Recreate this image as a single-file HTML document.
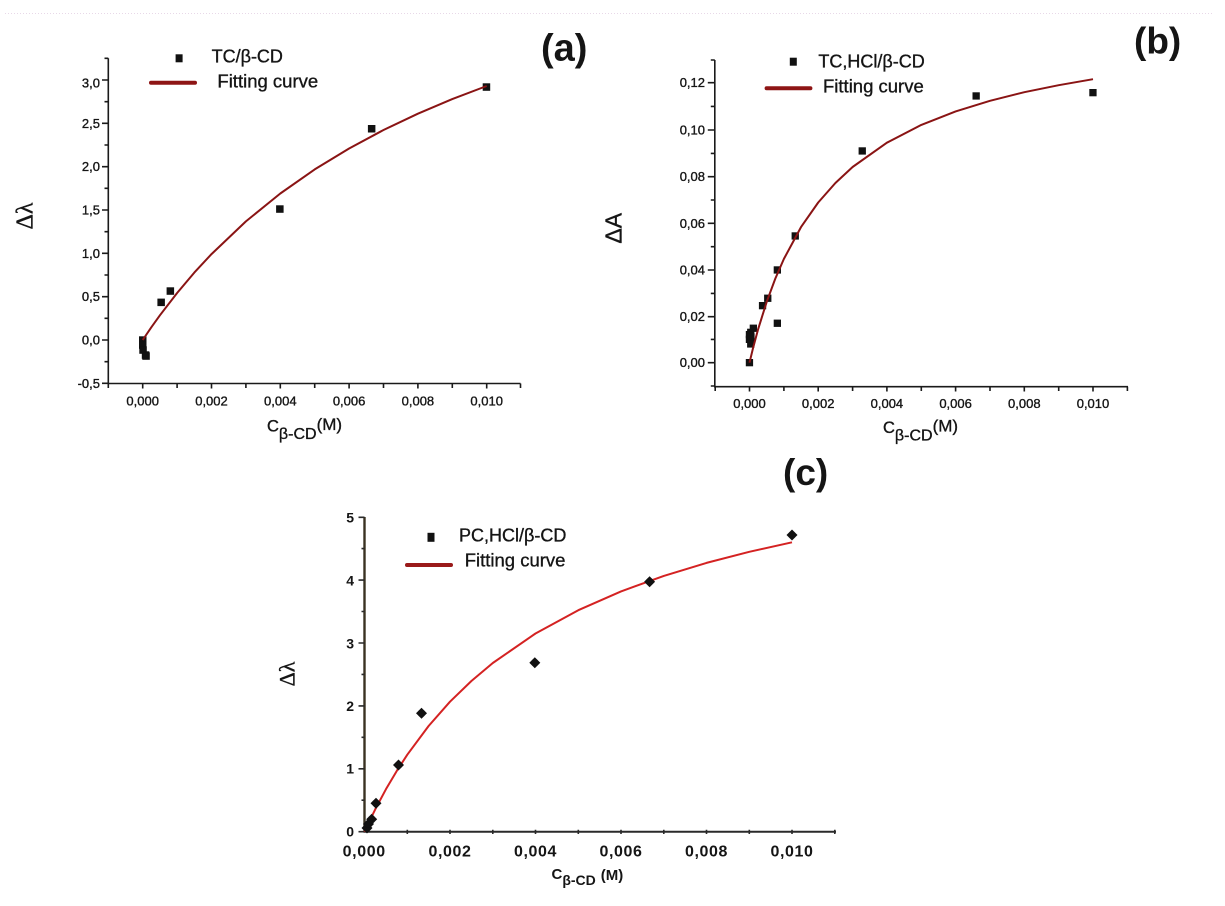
<!DOCTYPE html>
<html>
<head>
<meta charset="utf-8">
<style>
html,body{margin:0;padding:0;background:#fff;}
svg{display:block;}
text{font-family:"Liberation Sans",Arial,sans-serif;fill:#151515;}
.serif{font-family:"Liberation Serif","Times New Roman",serif;}
.th{stroke:#151515;stroke-width:0.35;}
</style>
</head>
<body>
<svg width="1225" height="906" viewBox="0 0 1225 906" xmlns="http://www.w3.org/2000/svg">
<rect width="1225" height="906" fill="#ffffff"/>
<line x1="5" y1="13.5" x2="1212" y2="13.5" stroke="#e8d8e8" stroke-width="1" stroke-dasharray="1 2"/>

<!-- ================= PANEL (a) ================= -->
<g stroke="#1a1a1a" stroke-width="1.6" fill="none">
  <line x1="108.3" y1="58.3" x2="108.3" y2="384"/>
  <line x1="107.5" y1="383.5" x2="520.5" y2="383.5"/>
  <path d="M102 383.3H108.3M104.5 361.7H108.3M102 340H108.3M104.5 318.3H108.3M102 296.7H108.3M104.5 275H108.3M102 253.3H108.3M104.5 231.7H108.3M102 210H108.3M104.5 188.3H108.3M102 166.7H108.3M104.5 145H108.3M102 123.3H108.3M104.5 101.7H108.3M102 80H108.3M104.5 58.3H108.3"/>
  <path d="M108.3 383.5V388M142.7 383.5V388.5M177.1 383.5V388M211.5 383.5V388.5M245.9 383.5V388M280.3 383.5V388.5M314.7 383.5V388M349.1 383.5V388.5M383.5 383.5V388M417.9 383.5V388.5M452.3 383.5V388M486.7 383.5V388.5M520.5 383.5V388"/>
</g>
<g font-size="13" text-anchor="end" class="th">
  <text x="100" y="87.5">3,0</text>
  <text x="100" y="127.8">2,5</text>
  <text x="100" y="171.2">2,0</text>
  <text x="100" y="214.5">1,5</text>
  <text x="100" y="257.8">1,0</text>
  <text x="100" y="301.2">0,5</text>
  <text x="100" y="344.5">0,0</text>
  <text x="100" y="387.8">-0,5</text>
</g>
<g font-size="13" text-anchor="middle" class="th">
  <text x="142.7" y="405.5">0,000</text>
  <text x="211.5" y="405.5">0,002</text>
  <text x="280.3" y="405.5">0,004</text>
  <text x="349.1" y="405.5">0,006</text>
  <text x="417.9" y="405.5">0,008</text>
  <text x="486.7" y="405.5">0,010</text>
</g>
<text class="th" x="267" y="431.7" font-size="16.5">C<tspan font-size="16" dy="7.5">β-CD</tspan><tspan font-size="17" dy="-9">(M)</tspan></text>
<text class="serif th" x="32.5" y="216" font-size="24" text-anchor="middle" transform="rotate(-90 32.5 216)">Δλ</text>
<text x="541" y="60.5" font-size="38" font-weight="bold">(a)</text>
<rect x="175.6" y="54.3" width="7" height="8" fill="#111"/>
<text class="th" x="211.6" y="62.5" font-size="18">TC/β-CD</text>
<line x1="151" y1="82.7" x2="195" y2="82.7" stroke="#8e1515" stroke-width="4" stroke-linecap="round"/>
<text class="th" x="217.4" y="87.5" font-size="18.5">Fitting curve</text>
<g fill="#111">
  <rect x="139" y="336.3" width="7.5" height="7.5"/>
  <rect x="139" y="341.3" width="7.5" height="7.5"/>
  <rect x="139.3" y="346.3" width="7.5" height="7.5"/>
  <rect x="141.8" y="351.3" width="7.5" height="7.5"/>
  <rect x="142.3" y="352.3" width="7.5" height="7.5"/>
  <rect x="157.4" y="298.6" width="7.5" height="7.5"/>
  <rect x="166.6" y="287.3" width="7.5" height="7.5"/>
  <rect x="276.1" y="205.3" width="7.5" height="7.5"/>
  <rect x="367.9" y="125" width="7.5" height="7.5"/>
  <rect x="482.7" y="83.3" width="7.5" height="7.5"/>
</g>
<polyline fill="none" stroke="#8a1414" stroke-width="2" stroke-linejoin="round" points="142.7,340 151.3,327.3 159.9,315.3 177.1,293 194.3,272.6 211.5,254.1 245.9,221.4 280.3,193.5 314.7,169.4 349.1,148.5 383.5,130 417.9,113.7 452.3,99.1 486.7,86"/>

<!-- ================= PANEL (b) ================= -->
<g stroke="#1a1a1a" stroke-width="1.6" fill="none">
  <line x1="714.8" y1="60" x2="714.8" y2="387"/>
  <line x1="714" y1="386.7" x2="1128" y2="386.7"/>
  <path d="M710.8 386H714.8M707.8 362.7H714.8M710.8 339.4H714.8M707.8 316.7H714.8M710.8 293.4H714.8M707.8 270H714.8M710.8 246.7H714.8M707.8 223.3H714.8M710.8 200H714.8M707.8 176.7H714.8M710.8 153.4H714.8M707.8 130H714.8M710.8 106.4H714.8M707.8 82.7H714.8M710.8 60H714.8"/>
  <path d="M715.2 386.7V391M749.5 386.7V391.5M783.9 386.7V391M818.2 386.7V391.5M852.6 386.7V391M886.9 386.7V391.5M921.3 386.7V391M955.6 386.7V391.5M990 386.7V391M1024.3 386.7V391.5M1058.7 386.7V391M1093 386.7V391.5M1127.4 386.7V391"/>
</g>
<g font-size="13" text-anchor="end" class="th">
  <text x="705" y="87.2">0,12</text>
  <text x="705" y="134.5">0,10</text>
  <text x="705" y="181.2">0,08</text>
  <text x="705" y="227.8">0,06</text>
  <text x="705" y="274.5">0,04</text>
  <text x="705" y="321.2">0,02</text>
  <text x="705" y="367.2">0,00</text>
</g>
<g font-size="13" text-anchor="middle" class="th">
  <text x="749.5" y="408">0,000</text>
  <text x="818.2" y="408">0,002</text>
  <text x="886.9" y="408">0,004</text>
  <text x="955.6" y="408">0,006</text>
  <text x="1024.3" y="408">0,008</text>
  <text x="1093" y="408">0,010</text>
</g>
<text class="th" x="883" y="433" font-size="16.5">C<tspan font-size="16" dy="7.5">β-CD</tspan><tspan font-size="17" dy="-9">(M)</tspan></text>
<text class="th" x="621.7" y="228.3" font-size="23" text-anchor="middle" transform="rotate(-90 621.7 228.3)">ΔA</text>
<text x="1134" y="53.5" font-size="37" font-weight="bold">(b)</text>
<rect x="789.8" y="57.7" width="7" height="8" fill="#111"/>
<text class="th" x="818.4" y="67.5" font-size="18">TC,HCl/β-CD</text>
<line x1="766.6" y1="88.3" x2="810.4" y2="88.3" stroke="#8e1515" stroke-width="4" stroke-linecap="round"/>
<text class="th" x="823" y="92.5" font-size="18.5">Fitting curve</text>
<g fill="#111">
  <rect x="745.8" y="359" width="7.3" height="7.3"/>
  <rect x="745.8" y="331" width="7.3" height="7.3"/>
  <rect x="745.8" y="335.7" width="7.3" height="7.3"/>
  <rect x="747.1" y="340.3" width="7.3" height="7.3"/>
  <rect x="747.1" y="328.7" width="7.3" height="7.3"/>
  <rect x="749.7" y="324.6" width="7.3" height="7.3"/>
  <rect x="747.3" y="333.3" width="7.3" height="7.3"/>
  <rect x="758.9" y="302" width="7.3" height="7.3"/>
  <rect x="764.1" y="294.6" width="7.3" height="7.3"/>
  <rect x="773.7" y="266.3" width="7.3" height="7.3"/>
  <rect x="773.7" y="319.6" width="7.3" height="7.3"/>
  <rect x="791.6" y="232.3" width="7.3" height="7.3"/>
  <rect x="858.6" y="147.3" width="7.3" height="7.3"/>
  <rect x="972.5" y="92.3" width="7.3" height="7.3"/>
  <rect x="1089.3" y="89" width="7.3" height="7.3"/>
</g>
<polyline fill="none" stroke="#8a1414" stroke-width="2" stroke-linejoin="round" points="749.5,362.7 752.9,348.6 758.1,329.3 766.7,301.8 775.3,278.6 783.9,258.9 801,227.1 818.2,202.5 835.4,183 852.6,167 886.9,142.7 921.3,124.9 955.6,111.4 990,100.8 1024.3,92.2 1058.7,85.2 1093,79.2"/>

<!-- ================= PANEL (c) ================= -->
<g fill="none">
  <line x1="364.5" y1="517" x2="364.5" y2="832.5" stroke="#3a3222" stroke-width="2.4"/>
  <line x1="363.5" y1="831.7" x2="836" y2="831.7" stroke="#2a2a2a" stroke-width="2"/>
  <path stroke="#2a2a2a" stroke-width="1.6" d="M358.5 831.7H364.5M361.5 800.2H364.5M358.5 768.8H364.5M361.5 737.3H364.5M358.5 705.9H364.5M361.5 674.4H364.5M358.5 643H364.5M361.5 611.5H364.5M358.5 580.1H364.5M361.5 548.6H364.5M358.5 517.3H364.5"/>
  <path stroke="#2a2a2a" stroke-width="1.6" d="M407.3 829.7V834M450 829.7V834M492.8 829.7V834M535.5 829.7V834M578.3 829.7V834M621 829.7V834M663.8 829.7V834M706.5 829.7V834M749.3 829.7V834M792 829.7V834M834.8 829.7V834"/>
</g>
<g font-size="14" font-weight="bold" text-anchor="end">
  <text x="354" y="522.3">5</text>
  <text x="354" y="585.7">4</text>
  <text x="354" y="648.3">3</text>
  <text x="354" y="711">2</text>
  <text x="354" y="773.3">1</text>
  <text x="354" y="836.7">0</text>
</g>
<g font-size="16" font-weight="bold" text-anchor="middle" letter-spacing="0.6">
  <text x="364.2" y="856.7">0,000</text>
  <text x="450" y="856.7">0,002</text>
  <text x="535.5" y="856.7">0,004</text>
  <text x="621" y="856.7">0,006</text>
  <text x="706.5" y="856.7">0,008</text>
  <text x="792" y="856.7">0,010</text>
</g>
<text x="551.5" y="879" font-size="15" font-weight="bold" fill="#222">C<tspan font-size="14" dy="6">β-CD</tspan><tspan font-size="15" dx="5" dy="-5">(M)</tspan></text>
<text class="serif th" x="294.4" y="674" font-size="22" text-anchor="middle" transform="rotate(-90 294.4 674)">Δλ</text>
<text x="783" y="485" font-size="37" font-weight="bold">(c)</text>
<rect x="427.5" y="532.8" width="7" height="9" fill="#111"/>
<text class="th" x="459" y="541.5" font-size="18">PC,HCl/β-CD</text>
<line x1="407" y1="565" x2="451" y2="565" stroke="#9a1a1a" stroke-width="4" stroke-linecap="round"/>
<text class="th" x="464.7" y="566.5" font-size="18.5">Fitting curve</text>
<polyline fill="none" stroke="#d42222" stroke-width="2" stroke-linejoin="round" points="364.5,831.7 368.8,822.5 375.2,809.4 385.9,789.3 396.6,771.2 407.3,754.7 428.6,726 450,701.7 471.4,681 492.8,663 535.5,633.5 578.3,610.2 621,591.4 663.8,575.9 706.5,562.9 749.3,551.8 792,542.3"/>
<g fill="#111">
  <path d="M367 822.5L372.5 828L367 833.5L361.5 828Z"/>
  <path d="M368.5 818.5L374 824L368.5 829.5L363 824Z"/>
  <path d="M371.7 813.8L377.2 819.3L371.7 824.8L366.2 819.3Z"/>
  <path d="M376 797.8L381.5 803.3L376 808.8L370.5 803.3Z"/>
  <path d="M398.5 759.5L404 765L398.5 770.5L393 765Z"/>
  <path d="M421.5 707.8L427 713.3L421.5 718.8L416 713.3Z"/>
  <path d="M534.8 657.2L540.3 662.7L534.8 668.2L529.3 662.7Z"/>
  <path d="M649.6 576.2L655.1 581.7L649.6 587.2L644.1 581.7Z"/>
  <path d="M792 529.5L797.5 535L792 540.5L786.5 535Z"/>
  <circle cx="367" cy="828" r="3.8"/>
  <circle cx="368.5" cy="824" r="3.8"/>
  <circle cx="371.7" cy="819.3" r="3.8"/>
  <circle cx="376" cy="803.3" r="3.8"/>
  <circle cx="398.5" cy="765" r="3.8"/>
  <circle cx="421.5" cy="713.3" r="3.8"/>
  <circle cx="534.8" cy="662.7" r="3.8"/>
  <circle cx="649.6" cy="581.7" r="3.8"/>
  <circle cx="792" cy="535" r="3.8"/>
</g>
</svg>
</body>
</html>
